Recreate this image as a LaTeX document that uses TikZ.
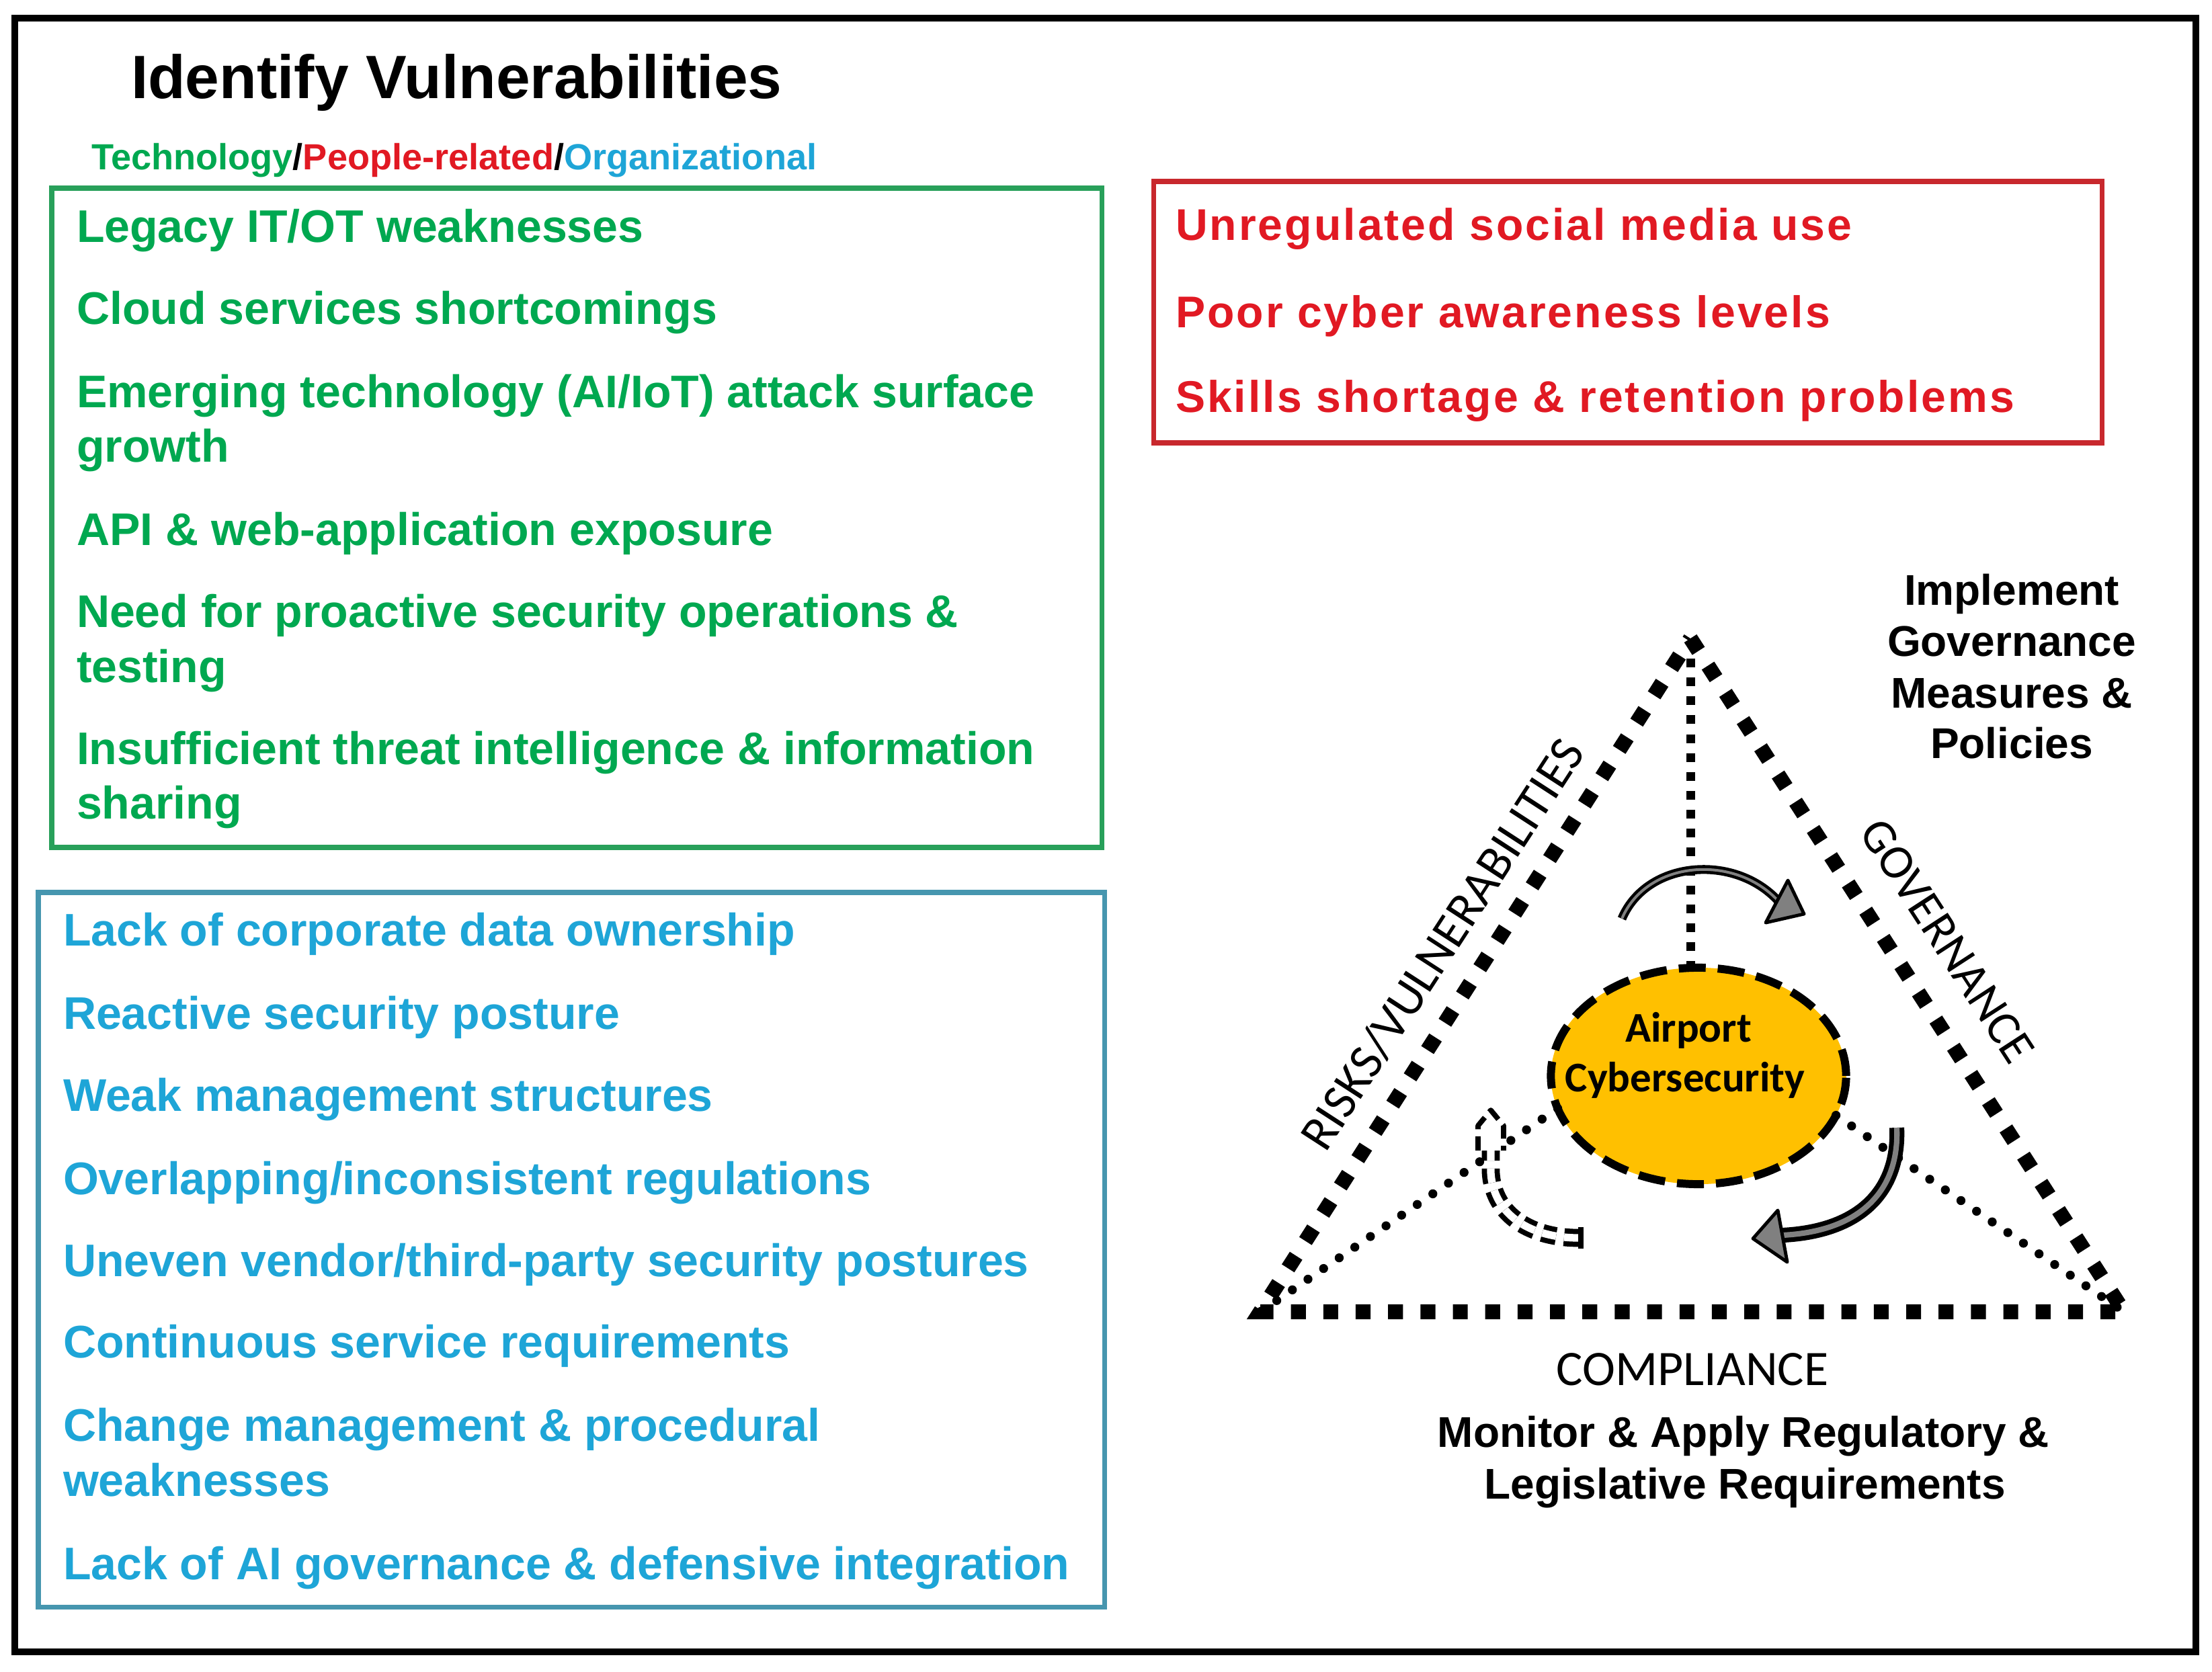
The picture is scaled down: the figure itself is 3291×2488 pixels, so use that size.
\documentclass[tikz,border=0pt]{standalone}
\usepackage{fontspec}
\setmainfont{Liberation Sans}
\newfontfamily\calfont{Carlito}
\usetikzlibrary{shapes.geometric}
\definecolor{tgreen}{RGB}{0,168,80}
\definecolor{tgreenb}{RGB}{40,160,90}
\definecolor{tblue}{RGB}{30,165,215}
\definecolor{tblueb}{RGB}{70,150,175}
\definecolor{tred}{RGB}{225,25,35}
\definecolor{tredb}{RGB}{200,40,45}
\definecolor{ellfill}{RGB}{255,192,0}
\definecolor{arrgray}{RGB}{128,128,128}
\begin{document}
\begin{tikzpicture}[x=0.01cm,y=-0.01cm,
  every node/.style={inner sep=0pt, outer sep=0pt},
  ttl/.style={anchor=base west, font=\fontsize{25.9}{30}\selectfont\bfseries},
  subt/.style={anchor=base west, font=\fontsize{15.4}{18}\selectfont\bfseries},
  gtxt/.style={anchor=base west, text=tgreen, font=\fontsize{19.35}{23}\selectfont\bfseries},
  btxt/.style={anchor=base west, text=tblue, font=\fontsize{19.35}{23}\selectfont\bfseries},
  rtxt/.style={anchor=base west, text=tred, font=\fontsize{18.8}{22}\selectfont\bfseries\addfontfeature{LetterSpace=4.6}},
  blktxt/.style={anchor=base, font=\fontsize{18.2}{22}\selectfont\bfseries},
  caltxt/.style={anchor=base, font=\fontsize{21}{25}\selectfont\calfont},
  gbox/.style={draw=tgreenb, line width=2pt},
  bbox/.style={draw=tblueb, line width=2pt},
  rbox/.style={draw=tredb, line width=2pt},
  triedge/.style={line width=6.3pt, dash pattern=on 6.3pt off 7.4pt},
  vdot/.style={line width=3.7pt, dash pattern=on 3.7pt off 4.3pt},
  rdot/.style={line width=3.8pt, line cap=round, dash pattern=on 0pt off 8pt},
  garrow/.style={draw=black, line width=1.3pt, double=arrgray, double distance=1.15pt},
  garrowb/.style={draw=black, line width=2pt, double=arrgray, double distance=2.3pt},
  ghead/.style={fill=arrgray, draw=black, line width=1.4pt, line join=round},
  darrow/.style={draw=black, line width=2.2pt, double=white, double distance=3.2pt, dash pattern=on 6pt off 3.4pt},
  dhead/.style={draw=black, fill=white, line width=2.2pt, dash pattern=on 6pt off 3pt, line join=round}
]
\fill[white] (0,0) rectangle (3291,2488);
\useasboundingbox (0,0) rectangle (3291,2488);
\draw[line width=2.85pt] (22,27) rectangle (3267,2458);

% title
\node[ttl] (title) at (195,147) {Identify Vulnerabilities};
\node[subt] (subtitle) at (136,252) {\textcolor{tgreen}{Technology}/\textcolor{tred}{People-related}/\textcolor{tblue}{Organizational}};

% green box
\draw[gbox] (77,280) rectangle (1639,1261);
\node[gtxt] (g1) at (114,360) {Legacy IT/OT weaknesses};
\node[gtxt] (g2) at (114,482) {Cloud services shortcomings};
\node[gtxt] (g3) at (114,606) {Emerging technology (AI/IoT) attack surface};
\node[gtxt] (g3b) at (114,687) {growth};
\node[gtxt] (g4) at (114,811) {API \& web-application exposure};
\node[gtxt] (g5) at (114,933) {Need for proactive security operations \&};
\node[gtxt] (g5b) at (114,1015) {testing};
\node[gtxt] (g6) at (114,1137) {Insufficient threat intelligence \& information};
\node[gtxt] (g6b) at (114,1218) {sharing};

% blue box
\draw[bbox] (57,1328) rectangle (1643,2391);
\node[btxt] (b1) at (94,1407) {Lack of corporate data ownership};
\node[btxt] (b2) at (94,1531) {Reactive security posture};
\node[btxt] (b3) at (94,1653) {Weak management structures};
\node[btxt] (b4) at (94,1777) {Overlapping/inconsistent regulations};
\node[btxt] (b5) at (94,1899) {Uneven vendor/third-party security postures};
\node[btxt] (b6) at (94,2020) {Continuous service requirements};
\node[btxt] (b7) at (94,2144) {Change management \& procedural};
\node[btxt] (b7b) at (94,2226) {weaknesses};
\node[btxt] (b8) at (94,2350) {Lack of AI governance \& defensive integration};

% red box
\draw[rbox] (1716,270) rectangle (3127,659);
\node[rtxt] (r1) at (1749,357) {Unregulated social media use};
\node[rtxt] (r2) at (1749,487) {Poor cyber awareness levels};
\node[rtxt] (r3) at (1749,613) {Skills shortage \& retention problems};

% implement text
\node[blktxt] (i1) at (2993,900) {Implement};
\node[blktxt] (i2) at (2993,976) {Governance};
\node[blktxt] (i3) at (2993,1053) {Measures \&};
\node[blktxt] (i4) at (2993,1128) {Policies};

% triangle
\coordinate (A) at (2515,950);
\coordinate (B) at (1875,1952);
\coordinate (C) at (3160,1952);
\draw[triedge] (A) -- (C) -- (B) -- cycle;

% ellipse
\node[ellipse, draw=black, fill=ellfill, line width=3.4pt, dash pattern=on 11.4pt off 5.1pt,
      minimum width=4.39cm, minimum height=3.22cm] (ell) at (2527,1601) {};
\node[anchor=base, font=\fontsize{17.9}{21}\selectfont\calfont\bfseries] (air1) at (2512,1550) {Airport};
\node[anchor=base, font=\fontsize{17.9}{21}\selectfont\calfont\bfseries] (air2) at (2507,1624) {Cybersecurity};

% dotted connectors
\draw[vdot] ([yshift=-0.3cm]A) -- (A |- ell.north);
\draw[rdot] (ell.193) -- (B);
\draw[rdot] (ell.344) -- (C);

% labels
\node[caltxt, anchor=center, rotate=57] (risks) at (2146,1405) {RISKS/VULNERABILITIES};
\node[caltxt, anchor=center, rotate=-57, font=\fontsize{20.5}{25}\selectfont\calfont] (gov) at (2897,1400) {GOVERNANCE};
\node[caltxt] (comp) at (2518,2061) {COMPLIANCE};
\node[blktxt] (m1) at (2594,2153) {Monitor \& Apply Regulatory \&};
\node[blktxt] (m2) at (2596,2230) {Legislative Requirements};

% top curved arrow
\coordinate (ta1) at (2413,1367);
\coordinate (ta2) at (2645,1340);
\draw[garrow] (ta1) .. controls (2450,1280) and (2580,1270) .. (ta2);
\draw[ghead] (2660,1310) -- (2684,1360) -- (2627,1373) -- cycle;

% bottom right curved arrow
\coordinate (rb1) at (2822,1678);
\coordinate (rb2) at (2652,1838);
\draw[garrowb] (rb1) .. controls (2826,1770) and (2770,1832) .. (rb2);
\draw[ghead] (2645,1801) -- (2608,1843) -- (2659,1878) -- cycle;

% dashed outline arrow
\coordinate (da1) at (2348,1842);
\coordinate (da2) at (2218,1712);
\draw[darrow] (da1) .. controls (2280,1842) and (2222,1810) .. (2218,1745) -- (da2);
\draw[line width=2.2pt] (2352,1826) -- (2352,1858);
\draw[dhead] (2199,1712) -- (2199,1675) -- (2218,1652) -- (2237,1675) -- (2237,1712);
\end{tikzpicture}
\end{document}
